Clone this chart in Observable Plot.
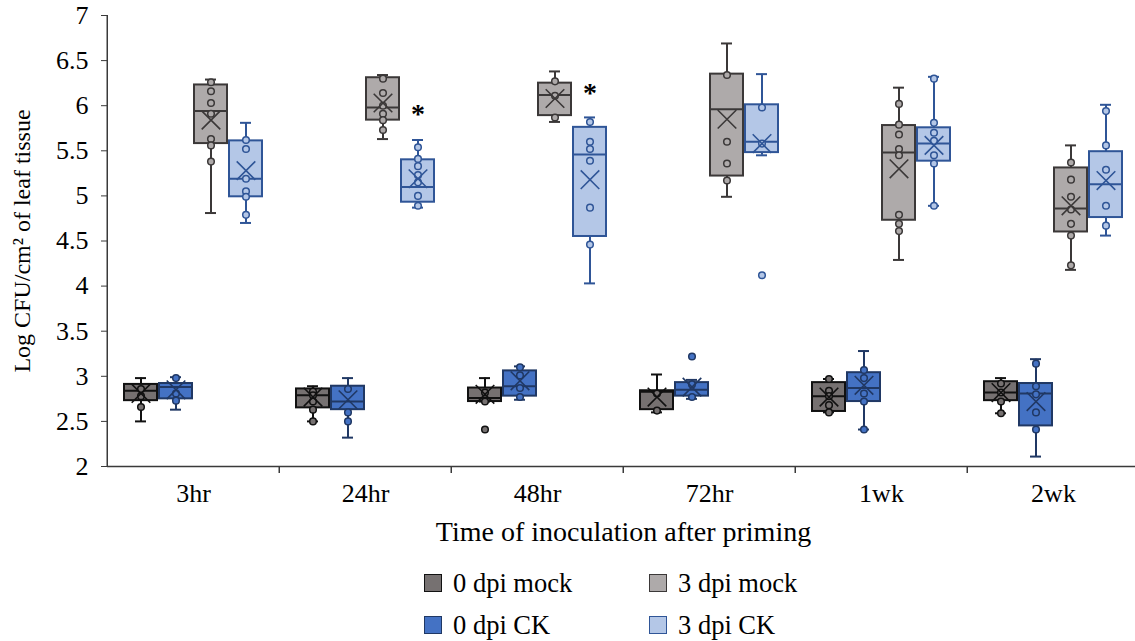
<!DOCTYPE html>
<html><head><meta charset="utf-8">
<script src="https://cdn.jsdelivr.net/npm/d3@7"></script>
<script src="https://cdn.jsdelivr.net/npm/@observablehq/plot@0.6"></script>
<style>
html,body{margin:0;padding:0;background:#fff;}
#wrap{position:relative;width:1135px;height:641px;overflow:hidden;font-family:'Liberation Serif','Times New Roman',serif;}
#chart{position:absolute;left:0;top:0;}
.lg{position:absolute;display:flex;align-items:center;font-size:26.5px;color:#000;white-space:nowrap;height:30px;}
.sw{width:18px;height:18px;border:1.5px solid;margin-right:11px;box-sizing:border-box;}
</style></head><body><div id="wrap"><div id="chart"></div></div>
<script>
// ---- categories ----
const times = ["3hr", "24hr", "48hr", "72hr", "1wk", "2wk"];
const seriesNames = ["0 dpi mock", "0 dpi CK", "3 dpi mock", "3 dpi CK"];
const yTicks = [2, 2.5, 3, 3.5, 4, 4.5, 5, 5.5, 6, 6.5, 7];

// ---- 0 dpi mock ----
const mock0Low  = [2.50, 2.50, 2.72, 2.60, 2.60, 2.59];
const mock0Q1   = [2.73, 2.65, 2.72, 2.63, 2.61, 2.73];
const mock0Med  = [2.84, 2.79, 2.76, 2.83, 2.78, 2.82];
const mock0Q3   = [2.91, 2.86, 2.87, 2.84, 2.93, 2.94];
const mock0High = [2.98, 2.89, 2.98, 3.02, 2.97, 2.98];
const mock0Mean = [2.81, 2.77, 2.80, 2.77, 2.77, 2.82];
const mock0Pts  = [[2.86, 2.78, 2.66], [2.83, 2.79, 2.72, 2.63, 2.50], [2.82, 2.72, 2.41],
                   [2.81, 2.62], [2.97, 2.84, 2.78, 2.68, 2.60], [2.92, 2.82, 2.72, 2.59]];

// ---- 0 dpi CK ----
const ck0Low  = [2.63, 2.32, 2.74, 2.75, 2.41, 2.11];
const ck0Q1   = [2.75, 2.63, 2.78, 2.78, 2.72, 2.45];
const ck0Med  = [2.88, 2.72, 2.89, 2.85, 2.87, 2.81];
const ck0Q3   = [2.92, 2.89, 3.06, 2.93, 3.04, 2.92];
const ck0High = [2.99, 2.98, 3.11, 2.96, 3.28, 3.19];
const ck0Mean = [2.85, 2.74, 2.95, 2.88, 2.90, 2.72];
const ck0Pts  = [[2.98, 2.81, 2.73], [2.86, 2.60, 2.50], [3.10, 3.01, 2.87, 2.77],
                 [2.91, 2.77, 3.22], [3.07, 2.98, 2.81, 2.72, 2.41], [3.14, 2.89, 2.80, 2.60, 2.41]];

// ---- 3 dpi mock ----
const mock3Low  = [4.81, 5.63, 5.82, 4.99, 4.29, 4.18];
const mock3Q1   = [5.58, 5.84, 5.89, 5.22, 4.73, 4.60];
const mock3Med  = [5.94, 5.98, 6.12, 5.96, 5.48, 4.86];
const mock3Q3   = [6.23, 6.31, 6.25, 6.35, 5.78, 5.31];
const mock3High = [6.29, 6.34, 6.38, 6.69, 6.20, 5.56];
const mock3Mean = [5.84, 6.03, 6.08, 5.85, 5.30, 4.89];
const mock3Pts  = [[6.26, 6.16, 6.03, 5.91, 5.63, 5.56, 5.38], [6.30, 6.14, 6.00, 5.91, 5.84, 5.73],
                   [6.27, 6.11, 5.87], [6.34, 5.60, 5.36, 5.17],
                   [6.02, 5.79, 5.68, 5.52, 5.45, 4.79, 4.69, 4.61], [5.37, 5.18, 4.99, 4.85, 4.69, 4.56, 4.23]];

// ---- 3 dpi CK ----
const ck3Low  = [4.70, 4.87, 4.03, 5.45, 4.89, 4.56];
const ck3Q1   = [4.99, 4.93, 4.55, 5.48, 5.385, 4.76];
const ck3Med  = [5.19, 5.10, 5.46, 5.60, 5.58, 5.13];
const ck3Q3   = [5.61, 5.40, 5.76, 6.01, 5.755, 5.49];
const ck3High = [5.81, 5.62, 5.87, 6.35, 6.32, 6.01];
const ck3Mean = [5.28, 5.19, 5.18, 5.58, 5.56, 5.17];
const ck3Pts  = [[5.62, 5.52, 5.19, 5.05, 4.99, 4.79], [5.54, 5.41, 5.33, 5.23, 5.15, 5.00, 4.89],
                 [5.82, 5.60, 5.52, 5.39, 4.87, 4.46], [5.98, 5.58, 4.12],
                 [6.30, 5.81, 5.70, 5.61, 5.45, 5.36, 4.89], [5.94, 5.56, 5.29, 4.89, 4.67]];

// ---- significance marks ----
const starTimes  = ["24hr", "48hr"];
const starValues = [5.94, 6.17];

// ---- styles ----
const fillOf   = {"0 dpi mock": "#767171", "0 dpi CK": "#4472C4", "3 dpi mock": "#AEAAAA", "3 dpi CK": "#B4C7E7"};
const strokeOf = {"0 dpi mock": "#111111", "0 dpi CK": "#203864", "3 dpi mock": "#3B3838", "3 dpi CK": "#2F5597"};

const stats = {
  "0 dpi mock": [mock0Low, mock0Q1, mock0Med, mock0Q3, mock0High, mock0Mean, mock0Pts],
  "0 dpi CK":   [ck0Low, ck0Q1, ck0Med, ck0Q3, ck0High, ck0Mean, ck0Pts],
  "3 dpi mock": [mock3Low, mock3Q1, mock3Med, mock3Q3, mock3High, mock3Mean, mock3Pts],
  "3 dpi CK":   [ck3Low, ck3Q1, ck3Med, ck3Q3, ck3High, ck3Mean, ck3Pts]
};
const rows = times.flatMap((t, i) => seriesNames.map(s => {
  const [lo, q1, md, q3, hi, mn] = stats[s];
  return {time: t, series: s, low: lo[i], q1: q1[i], med: md[i], q3: q3[i], high: hi[i], mean: mn[i]};
}));
const points = times.flatMap((t, i) => seriesNames.flatMap(s =>
  stats[s][6][i].map(v => ({time: t, series: s, value: v}))));
const stars = starTimes.map((t, i) => ({time: t, series: "3 dpi CK", value: starValues[i]}));

const W = 1135, H = 550, ML = 105, MR = -5, MT = 15, MB = 84;
const facetW = (W - ML - MR) / times.length;
const F = d => fillOf[d.series], S = d => strokeOf[d.series];
const AX = "#3a3a3a";

const chart = Plot.plot({
  width: W, height: H,
  marginLeft: ML, marginRight: MR, marginTop: MT, marginBottom: MB,
  style: {fontFamily: "'Liberation Serif','Times New Roman',serif", fontSize: "24px", color: "#000", background: "#fff", overflow: "visible"},
  fx: {domain: times, padding: 0, label: null},
  x: {domain: seriesNames, paddingInner: 0.07, paddingOuter: 0.43, axis: null},
  y: {domain: [2, 7]},
  color: {type: "identity"},
  marks: [
    Plot.axisY({ticks: yTicks, tickFormat: d => String(d), tickSize: 6, tickPadding: 13, stroke: AX, label: null, fontSize: 26}),
    Plot.axisY({ticks: yTicks, tickFormat: () => "", tickSize: 0, label: "Log CFU/cm² of leaf tissue",
      labelAnchor: "center", labelArrow: "none", labelOffset: 95, fontSize: 24}),
    Plot.axisFx({anchor: "bottom", tickSize: 0, tickPadding: 17, fontSize: 26, label: null}),
    Plot.axisFx({anchor: "bottom", tickSize: 0, tickFormat: () => "", fontSize: 28,
      label: "Time of inoculation after priming", labelAnchor: "center", labelArrow: "none", labelOffset: 74}),
    Plot.ruleY([2], {stroke: AX, strokeWidth: 1.5}),
    Plot.ruleX(["3hr"], {fx: d => d, x: null, y1: 2, y2: 7, dx: -facetW / 2, stroke: AX, strokeWidth: 1.5}),
    Plot.ruleX(times.slice(1), {fx: d => d, x: null, y1: 2, y2: 2, insetBottom: -7, dx: -facetW / 2, stroke: AX, strokeWidth: 1.5}),
    // whiskers
    Plot.ruleX(rows, {fx: "time", x: "series", y1: "low", y2: "q1", stroke: S, strokeWidth: 2}),
    Plot.ruleX(rows, {fx: "time", x: "series", y1: "q3", y2: "high", stroke: S, strokeWidth: 2}),
    Plot.tickY(rows, {fx: "time", x: "series", y: "low", stroke: S, strokeWidth: 2, insetLeft: 11, insetRight: 11}),
    Plot.tickY(rows, {fx: "time", x: "series", y: "high", stroke: S, strokeWidth: 2, insetLeft: 11, insetRight: 11}),
    // boxes
    Plot.barY(rows, {fx: "time", x: "series", y1: "q1", y2: "q3", fill: F, stroke: S, strokeWidth: 2}),
    Plot.tickY(rows, {fx: "time", x: "series", y: "med", stroke: S, strokeWidth: 2}),
    // data points
    Plot.dot(points, {fx: "time", x: "series", y: "value", r: 3.3, fill: F, stroke: S, strokeWidth: 1.5}),
    // means
    Plot.dot(rows, {fx: "time", x: "series", y: "mean", symbol: "times", r: 8.5, stroke: S, strokeWidth: 1.6}),
    // significance
    Plot.text(stars, {fx: "time", x: "series", y: "value", text: () => "*", fontSize: 28, fontWeight: "bold", dy: 3})
  ]
});
document.getElementById("chart").appendChild(chart);

// ---- legend ----
const legendItems = [
  {name: "0 dpi mock", left: 424, top: 568},
  {name: "3 dpi mock", left: 649, top: 568},
  {name: "0 dpi CK", left: 424, top: 610},
  {name: "3 dpi CK", left: 649, top: 610}
];
const wrap = document.getElementById("wrap");
legendItems.forEach(it => {
  const d = document.createElement("div");
  d.className = "lg";
  d.style.left = it.left + "px";
  d.style.top = it.top + "px";
  const sw = document.createElement("span");
  sw.className = "sw";
  sw.style.background = fillOf[it.name];
  sw.style.borderColor = strokeOf[it.name];
  d.appendChild(sw);
  d.appendChild(document.createTextNode(it.name));
  wrap.appendChild(d);
});
</script></body></html>
